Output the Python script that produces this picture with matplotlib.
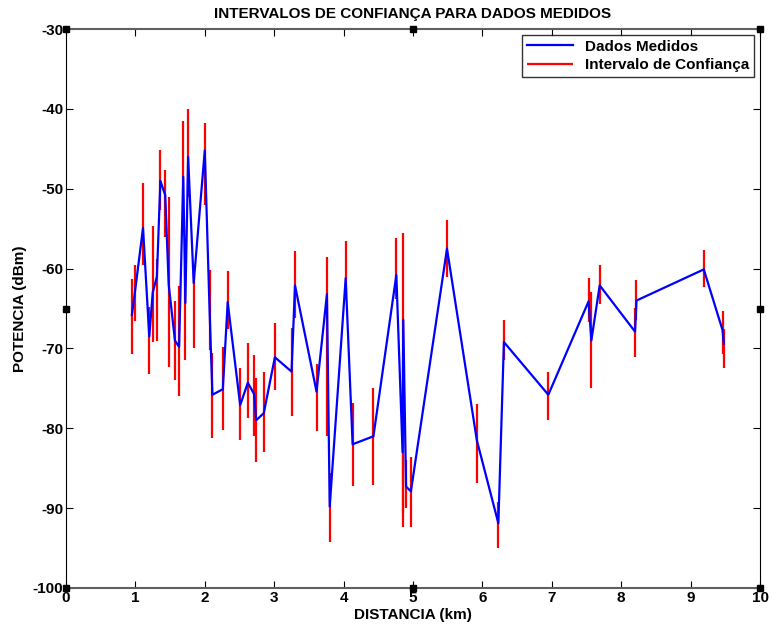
import numpy as np
import matplotlib.pyplot as plt

# --- dados ---
dist = [0.95, 1.00, 1.11, 1.20, 1.25, 1.31, 1.36, 1.43, 1.48, 1.57,
        1.63, 1.69, 1.72, 1.76, 1.84, 2.00, 2.07, 2.11, 2.26, 2.33,
        2.51, 2.62, 2.71, 2.74, 2.85, 3.01, 3.25, 3.30, 3.61, 3.76,
        3.80, 4.03, 4.13, 4.43, 4.76, 4.85, 4.86, 4.90, 4.97, 5.49,
        5.92, 6.23, 6.31, 6.95, 7.53, 7.57, 7.69, 8.20, 8.22, 9.19,
        9.46, 9.48]
potencia = [-65.8, -62.5, -54.9, -68.5, -63.0, -61.0, -49.0, -50.8, -62.0, -69.0,
            -69.8, -48.5, -64.3, -46.0, -61.8, -45.2, -65.5, -75.8, -75.1, -64.2,
            -77.1, -74.3, -75.7, -79.0, -78.1, -71.1, -72.9, -62.1, -75.4, -63.2,
            -89.8, -61.2, -82.0, -81.0, -60.8, -83.0, -66.4, -87.3, -87.9, -57.5,
            -81.5, -91.9, -69.2, -75.8, -64.1, -69.0, -62.1, -67.9, -64.0, -60.1,
            -67.7, -69.4]
ic_inf = [-70.7, -66.5, -59.5, -73.2, -69.2, -69.1, -52.7, -56.0, -72.3, -74.0,
          -76.0, -55.0, -71.4, -51.0, -70.0, -52.0, -70.2, -81.2, -80.2, -67.6,
          -81.5, -78.7, -81.0, -84.2, -83.0, -75.2, -78.5, -66.2, -80.3, -81.0,
          -94.3, -63.0, -87.2, -87.1, -63.8, -90.6, -92.4, -90.0, -92.4, -61.0,
          -86.9, -95.0, -71.4, -79.0, -66.7, -75.0, -64.4, -71.1, -66.4, -62.3,
          -70.7, -72.4]
ic_sup = [-61.3, -59.5, -49.3, -64.8, -54.7, -58.8, -45.2, -47.6, -51.0, -64.0,
          -62.2, -41.5, -60.0, -40.0, -59.8, -41.8, -60.2, -70.6, -69.8, -60.3,
          -72.5, -69.3, -70.8, -73.7, -73.0, -66.8, -67.5, -57.8, -71.9, -58.6,
          -85.6, -56.5, -76.8, -74.9, -56.2, -75.0, -55.6, -84.0, -83.6, -53.9,
          -77.0, -89.2, -66.4, -73.0, -61.2, -62.9, -59.5, -64.9, -61.4, -57.7,
          -65.3, -67.6]

xt = np.arange(0, 11, 1)
yt = np.arange(-100, -29, 10)

plt.rcParams['font.family'] = ['Liberation Sans Narrow', 'Liberation Sans', 'DejaVu Sans']
plt.rcParams['font.weight'] = 'bold'
plt.rcParams['axes.unicode_minus'] = False

fig = plt.figure(figsize=(7.69, 6.28), dpi=100)
ax = fig.add_axes([0.0858, 0.0637, 0.9025, 0.890])

ax.vlines(dist, ic_inf, ic_sup, color='red', lw=1.6, label='Intervalo de Confiança')
ax.plot(dist, potencia, color='blue', lw=1.6, label='Dados Medidos')

ax.set_xlim(0, 10)
ax.set_ylim(-100, -30)
ax.set_xticks(xt)
ax.set_yticks(yt)
ax.tick_params(direction='in', top=True, right=True, length=5, labelsize=11, pad=2)
for lab in ax.get_xticklabels() + ax.get_yticklabels():
    lab.set_fontweight('bold')
for s in ['top', 'bottom']:
    ax.spines[s].set_color('#606060')
    ax.spines[s].set_linewidth(1.5)

# quadradinhos de seleção (estilo MATLAB)
hx = [0, 5, 10, 0, 10, 0, 5, 10]
hy = [-30, -30, -30, -65, -65, -100, -100, -100]
ax.plot(hx, hy, 's', color='k', ms=4, clip_on=False, zorder=5)

ax.set_title('INTERVALOS DE CONFIANÇA PARA DADOS MEDIDOS', fontsize=11, fontweight='bold', pad=8)
ax.set_xlabel('DISTANCIA (km)', fontsize=11, fontweight='bold', labelpad=2)
ax.set_ylabel('POTENCIA (dBm)', fontsize=11, fontweight='bold', labelpad=4)

h, l = ax.get_legend_handles_labels()
leg = ax.legend(h[::-1], l[::-1], loc='upper right', fancybox=False, edgecolor='k',
                fontsize=11, borderaxespad=0.4, handlelength=3, borderpad=0.3,
                labelspacing=0.3)
leg.get_frame().set_linewidth(1.0)

fig.savefig('out.png', dpi=100)
